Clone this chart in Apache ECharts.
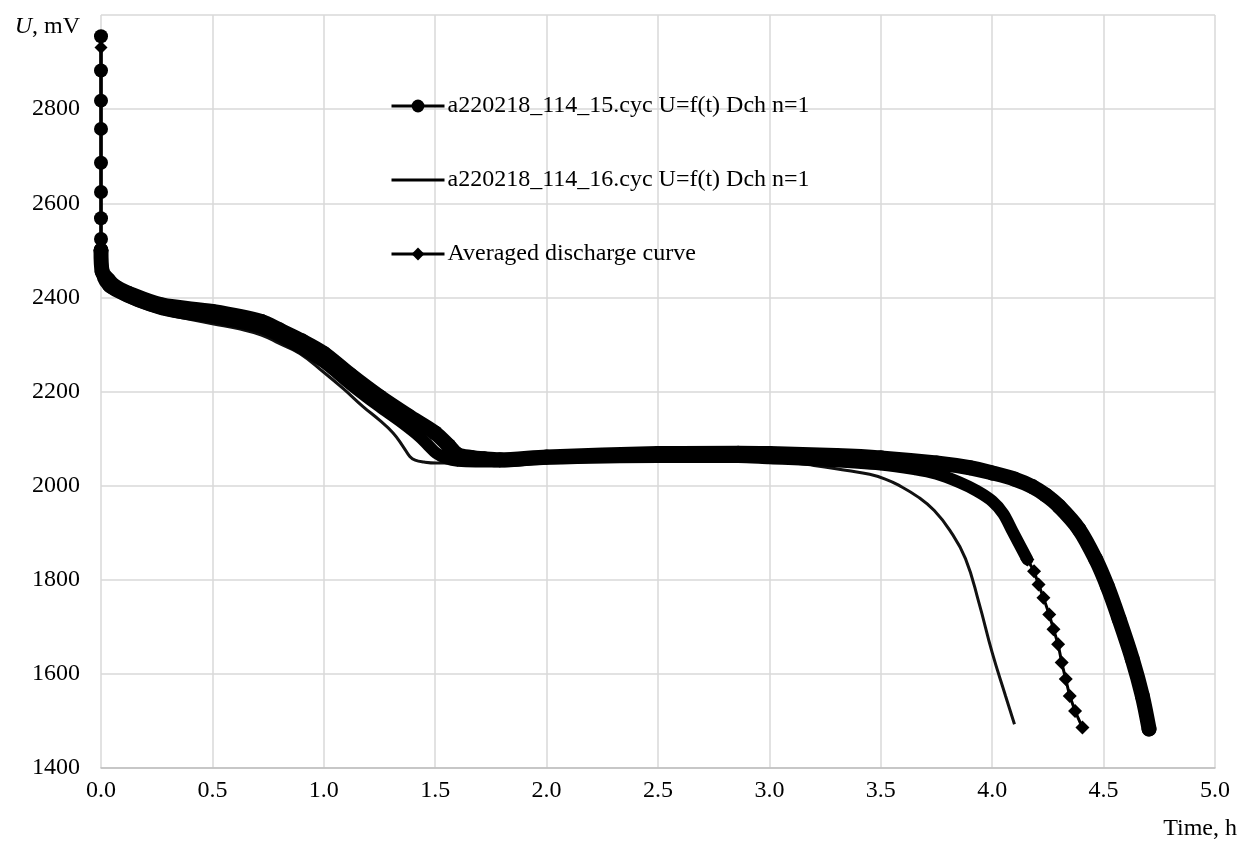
<!DOCTYPE html>
<html><head><meta charset="utf-8">
<script src="https://cdn.jsdelivr.net/npm/echarts@6/dist/echarts.min.js"></script>
<style>html,body{margin:0;padding:0;background:#fff}#c{width:1242px;height:841px}</style>
</head><body><div id="c"></div>
<script>
// ---- names ----
const name15 = 'a220218_114_15.cyc U=f(t) Dch n=1';
const name16 = 'a220218_114_16.cyc U=f(t) Dch n=1';
const nameAvg = 'Averaged discharge curve';
const xLabel = 'Time, h';
const yLabel = '{i|U}, mV';

// ---- data [time h, voltage mV] ----
const cyc15Start = [[0,2955],[0,2882],[0,2818],[0,2758],[0,2686],[0,2624],[0,2568],[0,2524],[0,2500]];
const cyc15Main = [[0,2500],[0.005,2455],[0.033,2437],[0.063,2423],[0.122,2409],[0.272,2384],[0.5,2370],[0.72,2349],[0.8,2331],[0.9,2308],[1.0,2281],[1.12,2235],[1.25,2189],[1.38,2148],[1.5,2112],[1.56,2085],[1.6,2066],[1.66,2060],[1.72,2057],[1.79,2055],[2.0,2061],[2.5,2068],[2.86,2069],[3.0,2068],[3.3,2064],[3.5,2059],[3.75,2048],[3.9,2038],[4.0,2027],[4.1,2014],[4.18,1998],[4.24,1980],[4.3,1956],[4.39,1907],[4.465,1843],[4.517,1786],[4.57,1716],[4.629,1631],[4.674,1553],[4.704,1483]];
const cyc16 = [[0,2930],[0,2480],[0.01,2425],[0.063,2405],[0.15,2385],[0.272,2366],[0.5,2344],[0.62,2333],[0.72,2320],[0.8,2302],[0.892,2281],[0.997,2242],[1.09,2205],[1.176,2168],[1.25,2139],[1.311,2112],[1.356,2083],[1.386,2062],[1.41,2054],[1.45,2050],[1.505,2048],[1.8,2050],[2.0,2054],[2.5,2058],[2.8,2056],[3.0,2053],[3.2,2043],[3.35,2032],[3.45,2024],[3.52,2014],[3.58,2001],[3.67,1975],[3.74,1947],[3.81,1905],[3.88,1845],[3.94,1752],[4.0,1645],[4.06,1553],[4.1,1493]];
const avgStart = [[0,2931],[0,2490]];
const avgMain = [[0,2490],[0.01,2440],[0.063,2414],[0.272,2375],[0.5,2357],[0.72,2335],[0.86,2302],[1.0,2262],[1.12,2215],[1.25,2168],[1.35,2134],[1.43,2104],[1.47,2085],[1.505,2069],[1.55,2058],[1.6,2053],[1.79,2051],[2.0,2057],[2.5,2061],[2.86,2061],[3.0,2058],[3.25,2053],[3.5,2045],[3.65,2035],[3.75,2025],[3.852,2007],[3.93,1989],[4.0,1967],[4.05,1940],[4.091,1903],[4.158,1843]];
const avgTail = [[4.158,1843],[4.188,1818],[4.208,1790],[4.23,1762],[4.256,1726],[4.275,1695],[4.296,1663],[4.312,1624],[4.33,1589],[4.348,1553],[4.372,1521],[4.405,1486]];

const FONT = "'Liberation Serif', 'Times New Roman', serif";
const FS = 24;
const INK = '#000';
const GRID = '#d9d9d9';

const chart = echarts.init(document.getElementById('c'), null, {renderer: 'canvas'});
const thin = {color: INK, width: 3};
chart.setOption({
  animation: false,
  backgroundColor: '#fff',
  grid: {left: 101, right: 27, top: 15, bottom: 72},
  legend: {
    data: [name15, {name: name16, itemStyle: {opacity: 0}}, nameAvg],
    orient: 'vertical', left: 390, top: 94, padding: 0,
    itemWidth: 53, itemHeight: 16, itemGap: 50,
    textStyle: {fontFamily: FONT, fontSize: FS, color: INK, padding: [0, 0, 0, -2]},
    lineStyle: {width: 3, color: INK},
    selectedMode: false
  },
  xAxis: {
    type: 'value', min: 0, max: 5, interval: 0.5,
    name: xLabel, nameLocation: 'end', nameGap: 22,
    nameTextStyle: {fontFamily: FONT, fontSize: FS, color: INK, align: 'right', verticalAlign: 'top', padding: [49, 0, 0, 0]},
    axisLine: {show: true, lineStyle: {color: '#bfbfbf', width: 1.5}},
    axisTick: {show: false},
    axisLabel: {fontFamily: FONT, fontSize: FS, color: INK, margin: 11, formatter: v => v.toFixed(1)},
    splitLine: {show: true, lineStyle: {color: GRID, width: 1.5}}
  },
  yAxis: {
    type: 'value', min: 1400, max: 3000, interval: 200,
    name: yLabel, nameLocation: 'end', nameGap: -12,
    nameTextStyle: {fontFamily: FONT, fontSize: FS, color: INK, align: 'right', verticalAlign: 'middle', padding: [0, 21, 0, 0],
      rich: {i: {fontFamily: FONT, fontSize: FS, color: INK, fontStyle: 'italic'}}},
    axisLine: {show: false},
    axisTick: {show: false},
    axisLabel: {fontFamily: FONT, fontSize: FS, color: INK, margin: 21, formatter: v => (v >= 3000 ? '' : String(v))},
    splitLine: {show: true, lineStyle: {color: GRID, width: 1.5}}
  },
  series: [
    {name: name15, type: 'line', data: cyc15Start, symbol: 'circle', symbolSize: 14, lineStyle: thin, itemStyle: {color: INK}, z: 4},
    {name: name16, type: 'line', data: cyc16, symbol: 'none', smooth: 0.45, lineStyle: {color: '#111', width: 3}, itemStyle: {color: INK}, z: 3},
    {name: nameAvg, type: 'line', data: avgStart, symbol: 'diamond', symbolSize: 13, lineStyle: thin, itemStyle: {color: INK}, z: 3},
    {name: name15, type: 'line', data: cyc15Main, symbol: 'circle', symbolSize: 15, smooth: 0.3, lineStyle: {color: INK, width: 15, cap: 'round', join: 'round'}, itemStyle: {color: INK}, z: 4},
    {name: nameAvg, type: 'line', data: avgMain, symbol: 'diamond', symbolSize: 12, smooth: 0.3, lineStyle: {color: INK, width: 12, cap: 'round', join: 'round'}, itemStyle: {color: INK}, z: 3},
    {name: nameAvg, type: 'line', data: avgTail, symbol: 'diamond', symbolSize: 14, lineStyle: thin, itemStyle: {color: INK}, z: 3}
  ]
});
</script>
</body></html>
